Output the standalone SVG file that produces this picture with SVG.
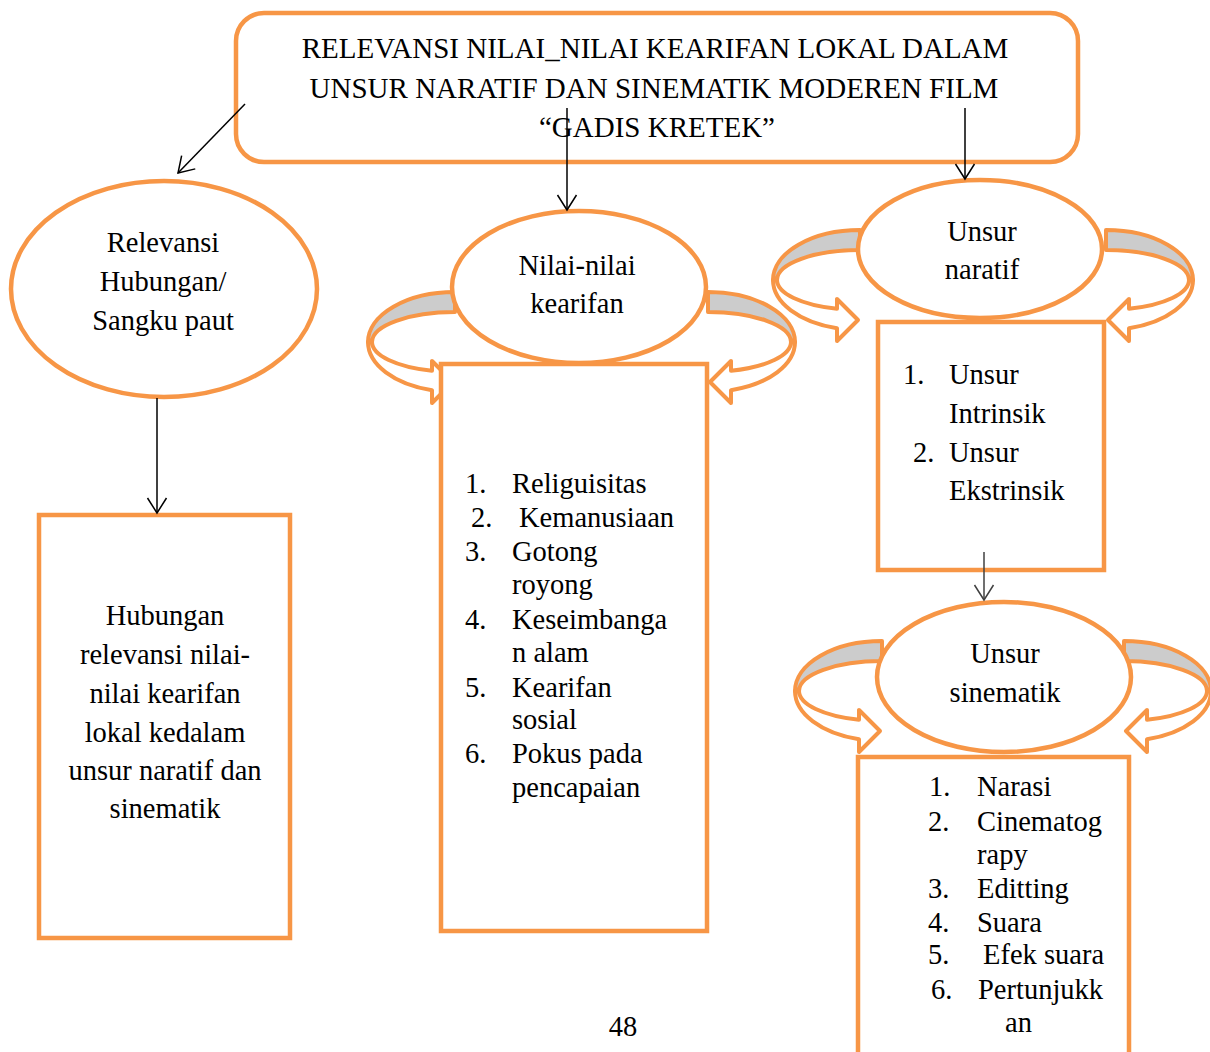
<svg xmlns="http://www.w3.org/2000/svg" xmlns:xlink="http://www.w3.org/1999/xlink" width="1210" height="1052" viewBox="0 0 1210 1052">
<style>
.o{fill:#fff;stroke:#F79646;stroke-width:4.5}
.g{fill:#CCCCCC;stroke:#F79646;stroke-width:4;stroke-linejoin:round}
.w{fill:#fff;stroke:#F79646;stroke-width:4;stroke-linejoin:round}
.t{font-family:"Liberation Serif","Times New Roman",serif;font-size:28.5px;fill:#000}
.c{text-anchor:middle}
.ti{font-size:29px}
.ln{fill:none;stroke:#000;stroke-width:1.5}
</style>
<defs>
<marker id="ah" viewBox="-17 -11 19 22" refX="0" refY="0" markerWidth="19" markerHeight="22" markerUnits="userSpaceOnUse" orient="auto">
<path d="M-15,-9.5 L0,0 L-15,9.5" fill="none" stroke="#000" stroke-width="1.5"/>
</marker>
<marker id="ah2" viewBox="-17 -11 19 22" refX="0" refY="0" markerWidth="19" markerHeight="22" markerUnits="userSpaceOnUse" orient="auto">
<path d="M-15,-9.5 L0,0 L-15,9.5" fill="none" stroke="#404040" stroke-width="1.5"/>
</marker>
<g id="rib">
<path class="g" d="M0,-50 A87 50 0 0 0 -87,0 L-83,0 A83 30 0 0 1 0,-30 Z"/>
<path class="w" d="M-87,0 A87 50 0 0 0 -23,48.2 L-23,61 L-2,40 L-23,19 L-23,28.8 A83 30 0 0 1 -83,0 Z"/>
</g>
</defs>
<rect width="1210" height="1052" fill="#fff"/>

<g id="title">
<rect class="o" x="236" y="13" width="842" height="149" rx="28"/>
<text class="t c ti" x="655" y="58">RELEVANSI NILAI_NILAI KEARIFAN LOKAL DALAM</text>
<text class="t c ti" x="654" y="98">UNSUR NARATIF DAN SINEMATIK MODEREN FILM</text>
<text class="t c ti" x="657" y="137">“GADIS KRETEK”</text>
</g>

<g id="curved-arrows">
<use xlink:href="#rib" transform="translate(860,280)"/>
<use xlink:href="#rib" transform="translate(1106,280) scale(-1,1)"/>
<use xlink:href="#rib" transform="translate(882,691)"/>
<use xlink:href="#rib" transform="translate(1124,691) scale(-1,1)"/>
<use xlink:href="#rib" transform="translate(455,342)"/>
<use xlink:href="#rib" transform="translate(708,342) scale(-1,1)"/>
</g>

<g id="relevansi">
<ellipse class="o" cx="164" cy="289" rx="153" ry="108"/>
<text class="t c" x="163" y="252">Relevansi</text>
<text class="t c" x="163" y="291">Hubungan/</text>
<text class="t c" x="163" y="330">Sangku paut</text>
</g>

<g id="hubungan">
<rect class="o" x="39" y="515" width="251" height="423"/>
<text class="t c" x="165" y="625">Hubungan</text>
<text class="t c" x="165" y="664">relevansi nilai-</text>
<text class="t c" x="165" y="703">nilai kearifan</text>
<text class="t c" x="165" y="742">lokal kedalam</text>
<text class="t c" x="165" y="780">unsur naratif dan</text>
<text class="t c" x="165" y="818">sinematik</text>
</g>

<g id="nilai-list">
<rect class="o" x="441" y="364" width="266" height="567"/>
<text class="t" x="465" y="493">1.</text><text class="t" x="512" y="493">Religuisitas</text>
<text class="t" x="471" y="527">2.</text><text class="t" x="519" y="527">Kemanusiaan</text>
<text class="t" x="465" y="561">3.</text><text class="t" x="512" y="561">Gotong</text>
<text class="t" x="512" y="594">royong</text>
<text class="t" x="465" y="629">4.</text><text class="t" x="512" y="629">Keseimbanga</text>
<text class="t" x="512" y="662">n alam</text>
<text class="t" x="465" y="697">5.</text><text class="t" x="512" y="697">Kearifan</text>
<text class="t" x="512" y="729">sosial</text>
<text class="t" x="465" y="763">6.</text><text class="t" x="512" y="763">Pokus pada</text>
<text class="t" x="512" y="797">pencapaian</text>
</g>

<g id="nilai">
<ellipse class="o" cx="579" cy="287" rx="127" ry="76"/>
<text class="t c" x="577" y="275">Nilai-nilai</text>
<text class="t c" x="577" y="313">kearifan</text>
</g>

<g id="naratif-list">
<rect class="o" x="878" y="322" width="226" height="248"/>
<text class="t" x="903" y="384">1.</text><text class="t" x="949" y="384">Unsur</text>
<text class="t" x="949" y="423">Intrinsik</text>
<text class="t" x="913" y="462">2.</text><text class="t" x="949" y="462">Unsur</text>
<text class="t" x="949" y="500">Ekstrinsik</text>
</g>

<g id="naratif">
<ellipse class="o" cx="980" cy="249" rx="122" ry="69"/>
<text class="t c" x="982" y="241">Unsur</text>
<text class="t c" x="982" y="279">naratif</text>
</g>

<g id="sinematik-list">
<rect class="o" x="858" y="757" width="271" height="310"/>
<text class="t" x="929" y="796">1.</text><text class="t" x="977" y="796">Narasi</text>
<text class="t" x="928" y="831">2.</text><text class="t" x="977" y="831">Cinematog</text>
<text class="t" x="977" y="864">rapy</text>
<text class="t" x="928" y="898">3.</text><text class="t" x="977" y="898">Editting</text>
<text class="t" x="928" y="932">4.</text><text class="t" x="977" y="932">Suara</text>
<text class="t" x="928" y="964">5.</text><text class="t" x="983" y="964">Efek suara</text>
<text class="t" x="931" y="999">6.</text><text class="t" x="978" y="999">Pertunjukk</text>
<text class="t" x="1005" y="1032">an</text>
</g>

<g id="sinematik">
<ellipse class="o" cx="1004" cy="677" rx="127" ry="75"/>
<text class="t c" x="1005" y="663">Unsur</text>
<text class="t c" x="1005" y="702">sinematik</text>
</g>

<g id="connectors">
<line class="ln" x1="245" y1="104" x2="178" y2="173" marker-end="url(#ah)"/>
<line class="ln" x1="567" y1="108" x2="567" y2="210" marker-end="url(#ah)"/>
<line class="ln" x1="965" y1="108" x2="965" y2="179" marker-end="url(#ah)"/>
<line class="ln" x1="157" y1="398" x2="157" y2="513" marker-end="url(#ah)"/>
<line x1="984" y1="552" x2="984" y2="600" fill="none" stroke="#404040" stroke-width="1.5" marker-end="url(#ah2)"/>
</g>

<text class="t c" x="623" y="1036">48</text>
</svg>
